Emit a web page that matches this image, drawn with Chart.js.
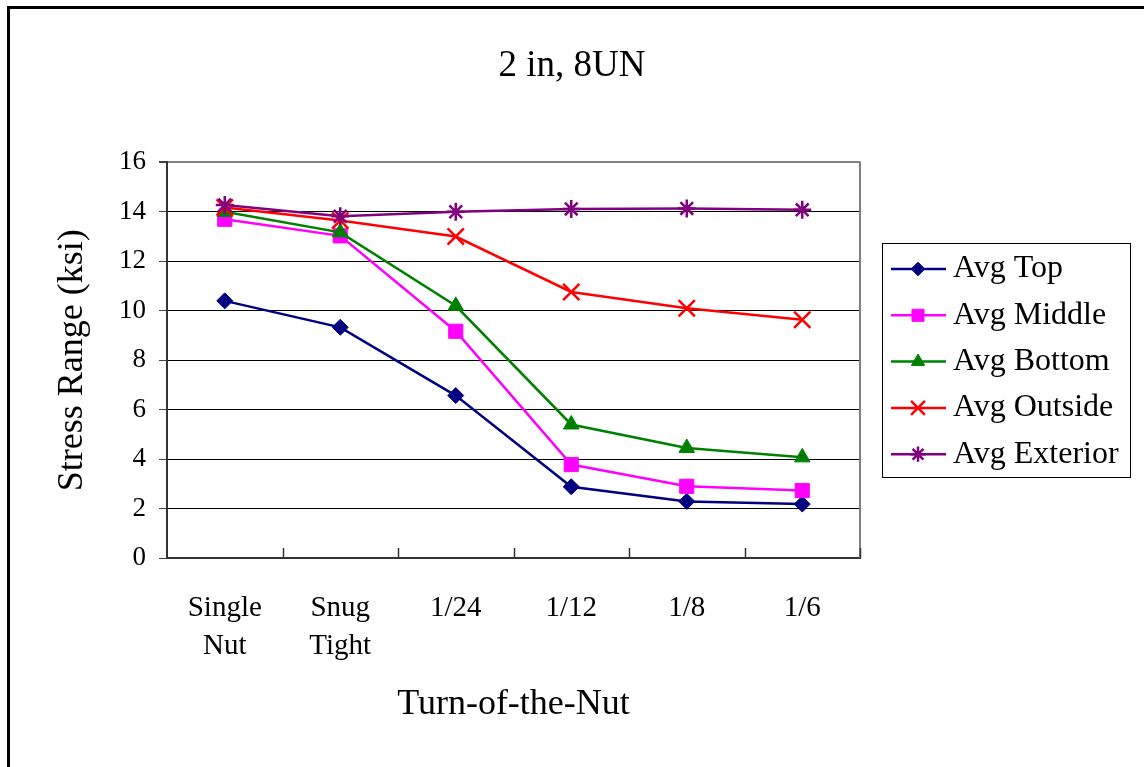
<!DOCTYPE html>
<html>
<head>
<meta charset="utf-8">
<title>2 in, 8UN</title>
<script src="https://cdn.jsdelivr.net/npm/chart.js@4.4.1/dist/chart.umd.min.js"></script>
<style>
  body { margin: 0; background: #fff; overflow: hidden; }
  #wrap { position: relative; width: 1144px; height: 767px; }
  #frame { position: absolute; left: 7px; top: 6px; width: 1200px; height: 800px;
           border-top: 3px solid #000; border-left: 3px solid #000; pointer-events: none; }
  canvas { position: absolute; left: 0; top: 0; }
</style>
</head>
<body>
<div id="wrap">
  <canvas id="myChart" width="1144" height="767"></canvas>
  <div id="frame"></div>
</div>
<script>
const SERIF = '"Liberation Serif", "Times New Roman", serif';

// turn-of-the-nut steps
const categories = [['Single', 'Nut'], ['Snug', 'Tight'], '1/24', '1/12', '1/8', '1/6'];

// average stress range per gauge location (ksi)
const avgTop      = [10.4, 9.33, 6.57, 2.88, 2.29, 2.18];
const avgMiddle   = [13.7, 13.03, 9.17, 3.78, 2.9, 2.73];
const avgBottom   = [14.0, 13.17, 10.2, 5.4, 4.45, 4.07];
const avgOutside  = [14.18, 13.65, 13.0, 10.76, 10.1, 9.64];
const avgExterior = [14.28, 13.82, 14.0, 14.12, 14.14, 14.08];

const yTicks = [0, 2, 4, 6, 8, 10, 12, 14, 16];

function series(label, data, color, style, radius, bw, order) {
    return {
        label: label,
        data: data,
        borderColor: color,
        backgroundColor: color,
        borderWidth: 2.5,
        pointStyle: style,
        pointRadius: radius,
        pointHoverRadius: radius,
        pointBackgroundColor: color,
        pointBorderColor: color,
        pointBorderWidth: bw,
        tension: 0,
        order: order
    };
}

// excel style frame bits: right edge of plot, inner x ticks, boxed legend
const plotExtras = {
    id: 'plotExtras',
    afterDraw(chart) {
        const ctx = chart.ctx;
        const area = chart.chartArea;
        const x = chart.scales.x;
        ctx.save();

        ctx.strokeStyle = '#808080';
        ctx.lineWidth = 2;
        ctx.beginPath();
        ctx.moveTo(area.right, area.top - 1);
        ctx.lineTo(area.right, area.bottom);
        ctx.stroke();

        ctx.strokeStyle = '#333';
        ctx.lineWidth = 1.5;
        for (let i = 1; i <= categories.length; i++) {
            const px = i < categories.length
                ? (x.getPixelForTick(i - 1) + x.getPixelForTick(i)) / 2
                : area.right;
            ctx.beginPath();
            ctx.moveTo(Math.round(px) + 0.5, area.bottom);
            ctx.lineTo(Math.round(px) + 0.5, area.bottom - 10);
            ctx.stroke();
        }

        const left = area.right + 22, width = 248, height = 234;
        const top = Math.round((area.top + area.bottom) / 2 - height / 2);
        ctx.strokeStyle = '#000';
        ctx.lineWidth = 1;
        ctx.strokeRect(left + 0.5, top + 0.5, width, height);

        chart.data.datasets.forEach((ds, i) => {
            const y = top + 26 + i * 46.3;
            ctx.strokeStyle = ds.borderColor;
            ctx.lineWidth = ds.borderWidth;
            ctx.beginPath();
            ctx.moveTo(left + 9, y);
            ctx.lineTo(left + 64, y);
            ctx.stroke();

            ctx.fillStyle = ds.pointBackgroundColor;
            ctx.strokeStyle = ds.pointBorderColor;
            ctx.lineWidth = ds.pointBorderWidth;
            Chart.helpers.drawPoint(ctx, {
                pointStyle: ds.pointStyle,
                radius: ds.pointRadius * 0.85,
                rotation: 0,
                borderWidth: ds.pointBorderWidth
            }, left + 36, y);

            ctx.fillStyle = '#000';
            ctx.font = '32px ' + SERIF;
            ctx.textAlign = 'left';
            ctx.textBaseline = 'middle';
            ctx.fillText(ds.label, left + 71, y);
        });
        ctx.restore();
    }
};

const ctx = document.getElementById('myChart');
const myChart = new Chart(ctx, {
    type: 'line',
    data: {
        labels: categories,
        datasets: [
            series('Avg Top', avgTop, '#000080', 'rectRot', 8, 1, 5),
            series('Avg Middle', avgMiddle, '#FF00FF', 'rect', 10, 1, 4),
            series('Avg Bottom', avgBottom, '#008000', 'triangle', 9, 1, 3),
            series('Avg Outside', avgOutside, '#FF0000', 'crossRot', 11.5, 2.5, 2),
            series('Avg Exterior', avgExterior, '#800080', 'star', 9, 2.5, 1)
        ]
    },
    options: {
        responsive: false,
        animation: false,
        layout: { padding: 0 },
        plugins: {
            legend: { display: false },
            tooltip: { enabled: false },
            title: {
                display: true,
                text: '2 in, 8UN',
                color: '#000',
                font: { family: SERIF, size: 37, weight: 'normal' },
                padding: { top: 44, bottom: 74 }
            }
        },
        scales: {
            x: {
                type: 'category',
                offset: true,
                afterFit(scale) { scale.height = 209; },
                grid: { display: false, drawTicks: false },
                border: { display: true, color: '#333', width: 2 },
                ticks: {
                    color: '#000',
                    padding: 31,
                    maxRotation: 0,
                    autoSkip: false,
                    font: { family: SERIF, size: 29, lineHeight: 1.32 }
                },
                title: {
                    display: true,
                    text: 'Turn-of-the-Nut',
                    color: '#000',
                    font: { family: SERIF, size: 36 },
                    padding: { top: 0, bottom: 41 }
                }
            },
            y: {
                min: 0,
                max: 16,
                afterFit(scale) { scale.width = 167; },
                afterBuildTicks(scale) { scale.ticks = yTicks.map(v => ({ value: v })); },
                grid: {
                    color: c => (c.tick && c.tick.value === 16 ? '#808080' : '#000'),
                    lineWidth: c => (c.tick && c.tick.value === 16 ? 2 : 1),
                    tickColor: '#444',
                    tickLength: 8
                },
                border: { display: true, color: '#333', width: 2 },
                ticks: {
                    color: '#000',
                    padding: 13,
                    font: { family: SERIF, size: 27 }
                },
                title: {
                    display: true,
                    text: 'Stress Range (ksi)',
                    color: '#000',
                    font: { family: SERIF, size: 36 },
                    padding: { top: 51, bottom: 0 }
                }
            },
            // empty right-hand strip that holds the legend box
            legendSpace: {
                position: 'right',
                min: 0,
                max: 16,
                afterFit(scale) { scale.width = 284; },
                grid: { display: false, drawTicks: false },
                border: { display: false },
                ticks: { display: false }
            }
        }
    },
    plugins: [plotExtras]
});
</script>
</body>
</html>
